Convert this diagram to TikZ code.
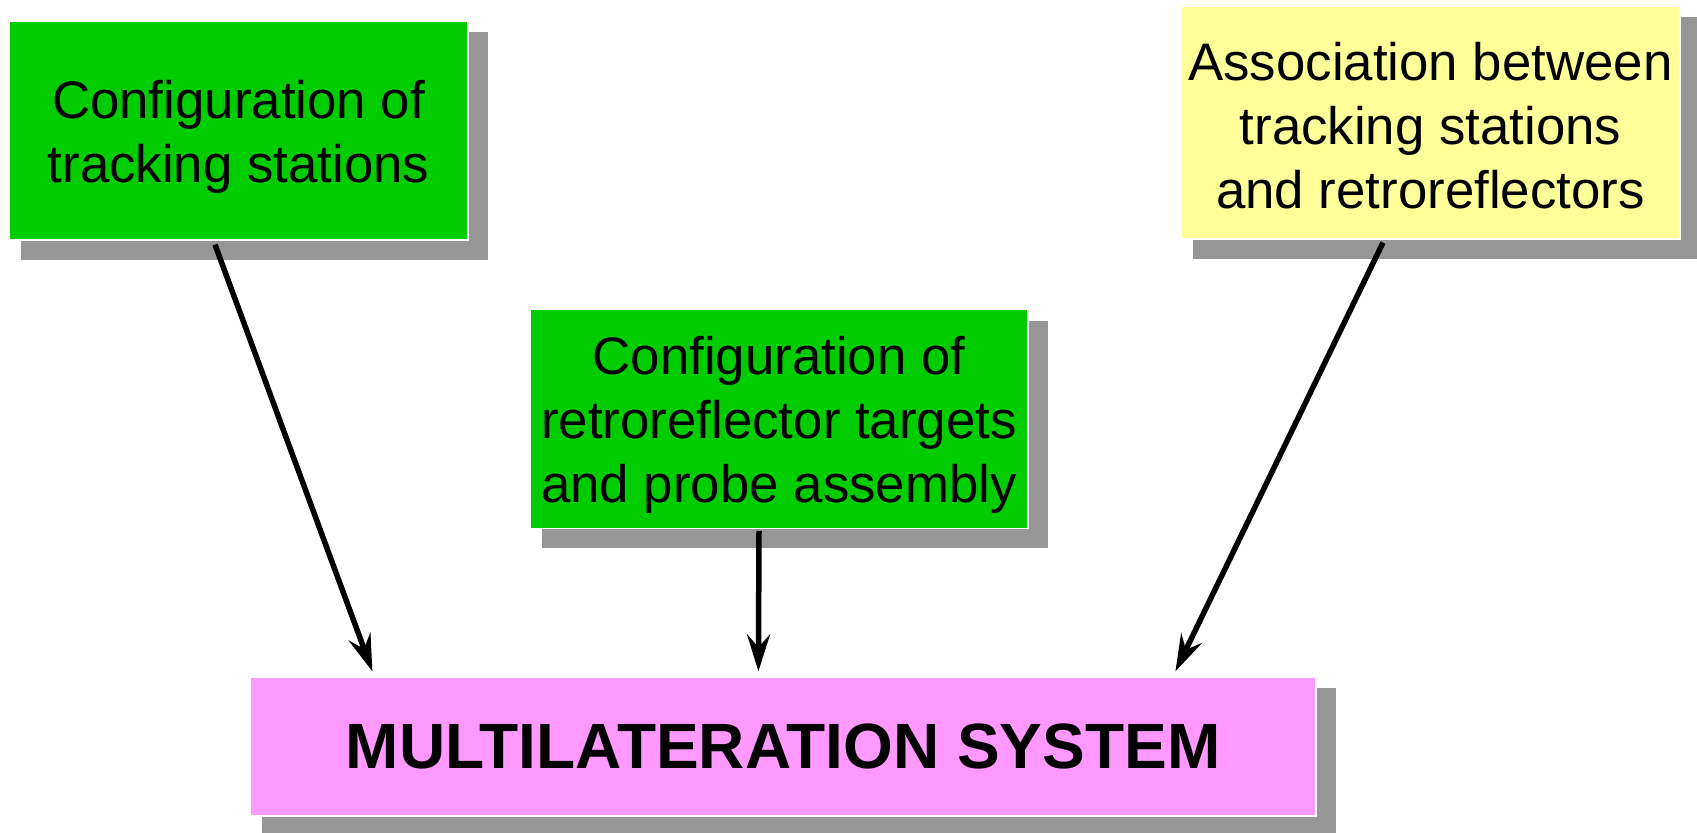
\documentclass[tikz,border=0pt]{standalone}
\usepackage{fontspec}
\setmainfont{Liberation Sans}
\usetikzlibrary{arrows.meta,calc}

\definecolor{boxgreen}{RGB}{0,204,0}
\definecolor{boxyellow}{RGB}{255,255,153}
\definecolor{boxpink}{RGB}{255,153,255}
\definecolor{shadowgray}{RGB}{150,150,150}

\pgfdeclarelayer{shadows}
\pgfsetlayers{shadows,main}

\tikzset{
  card/.style={draw=white, line width=0.6pt, inner sep=0pt, align=center,
    font=\fontsize{26.4pt}{32pt}\selectfont, text=black},
  sysbox/.style={card, fill=boxpink, font=\fontsize{32pt}{36pt}\selectfont\bfseries},
  flow/.style={line width=2.75pt, black,
    -{Stealth[length=18.5pt, width=11.5pt, inset=6.5pt]}},
}

% drop shadow behind a named box
\newcommand{\boxshadow}[1]{%
  \fill[shadowgray] ($(#1.north west)+(13,12)$) rectangle ($(#1.south east)+(19,19)$);}
% extra room above the first line of a box label
\newcommand{\headroom}[1]{\rule{0pt}{#1}}

\begin{document}
\begin{tikzpicture}[x=0.5pt, y=-0.5pt]
  \useasboundingbox (0,0) rectangle (1697,833);

  % boxes
  \node[card, fill=boxgreen, minimum width=229.5pt, minimum height=109.5pt]
    (stations) at (238.5,130.5) {\headroom{25pt}Configuration of\\tracking stations};
  \node[card, fill=boxgreen, minimum width=249pt, minimum height=109.25pt]
    (targets) at (779,419) {\headroom{25pt}Configuration of\\retroreflector targets\\and probe assembly};
  \node[card, fill=boxyellow, minimum width=249.5pt, minimum height=116.5pt]
    (assoc) at (1430.5,122.5) {\headroom{22pt}Association between\\tracking stations\\and retroreflectors};
  \node[sysbox, minimum width=533pt, minimum height=69.5pt]
    (system) at (783,746.5) {MULTILATERATION SYSTEM};

  % shadows go underneath the boxes
  \begin{pgfonlayer}{shadows}
    \boxshadow{stations}
    \boxshadow{targets}
    \boxshadow{assoc}
    \boxshadow{system}
  \end{pgfonlayer}

  % connectors into the system box
  \draw[flow] ($(stations.south)+(-23.5,4)$) -- ($(system.north west)+(123,-5)$);
  \draw[flow] ($(targets.south)+(-20,2)$) -- ($(system.north west)+(509,-5)$);
  \draw[flow] ($(assoc.south)+(-47.5,3)$) -- ($(system.north west)+(926,-5)$);
\end{tikzpicture}
\end{document}
